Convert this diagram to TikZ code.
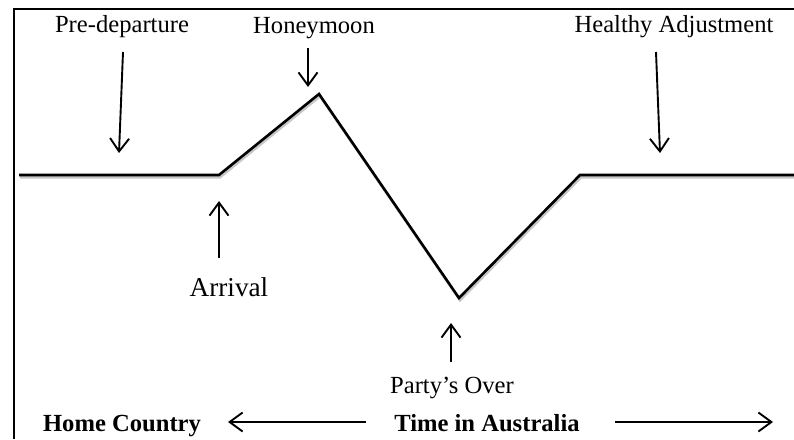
\documentclass[tikz,border=0pt]{standalone}
\usepackage{fontspec}
\setmainfont{Liberation Serif}
\usetikzlibrary{arrows.meta}
\begin{document}
\begin{tikzpicture}[x=1pt,y=-1pt,
  lbl/.style={anchor=base,inner sep=0pt,font=\fontsize{24.6}{29}\selectfont},
  biglbl/.style={anchor=base,inner sep=0pt,font=\fontsize{27.2}{32}\selectfont},
  blbl/.style={anchor=base,inner sep=0pt,font=\fontsize{24.6}{29}\selectfont\bfseries},
  pointer/.style={line width=1.9pt,-{Straight Barb[length=13pt,width=19pt,line width=1.9pt]}},
  curve/.style={line width=2.6pt,line join=miter},
  shade/.style={line width=2.6pt,line join=miter,black!22}]
\useasboundingbox (0,0) rectangle (794,439);
\fill[white] (0,0) rectangle (794,439);
\draw[line width=2pt] (794,9) -- (14,9) -- (14,439);
% curve vertices
\coordinate (c0) at (19,175);
\coordinate (c1) at (219,175);
\coordinate (c2) at (319,94);
\coordinate (c3) at (459,298);
\coordinate (c4) at (580,175);
\coordinate (c5) at (794,175);
\begin{scope}[shift={(1,2.2)}]
\draw[shade] (19,175) -- (219,175) -- (319,94) -- (459,298) -- (580,175) -- (794,175);
\end{scope}
\draw[curve] (c0) -- (c1) -- (c2) -- (c3) -- (c4) -- (c5);
% labels
\node[lbl] (pre) at (122,32.5) {Pre-departure};
\node[lbl] (honey) at (314,33) {Honeymoon};
\node[lbl] (healthy) at (674,32.5) {Healthy Adjustment};
\node[biglbl] (arr) at (229,296.7) {Arrival};
\node[lbl] (party) at (452,393) {Party’s Over};
\node[blbl] (home) at (122,431) {Home Country};
\node[blbl] (time) at (487,431) {Time in Australia};
% pointer ends
\coordinate (preA) at (123,52);  \coordinate (preB) at (119,153);
\coordinate (honA) at (308,48);  \coordinate (honB) at (308,87);
\coordinate (heaA) at (656,52);  \coordinate (heaB) at (660,153);
\coordinate (arrA) at (219,258); \coordinate (arrB) at (219,201);
\coordinate (parA) at (451,362); \coordinate (parB) at (451,323);
\coordinate (homA) at (366,422); \coordinate (homB) at (228,422);
\coordinate (timA) at (615,422); \coordinate (timB) at (773,422);
\draw[pointer] (preA) -- (preB);
\draw[pointer] (honA) -- (honB);
\draw[pointer] (heaA) -- (heaB);
\draw[pointer] (arrA) -- (arrB);
\draw[pointer] (parA) -- (parB);
\draw[pointer] (homA) -- (homB);
\draw[pointer] (timA) -- (timB);
\end{tikzpicture}
\end{document}
